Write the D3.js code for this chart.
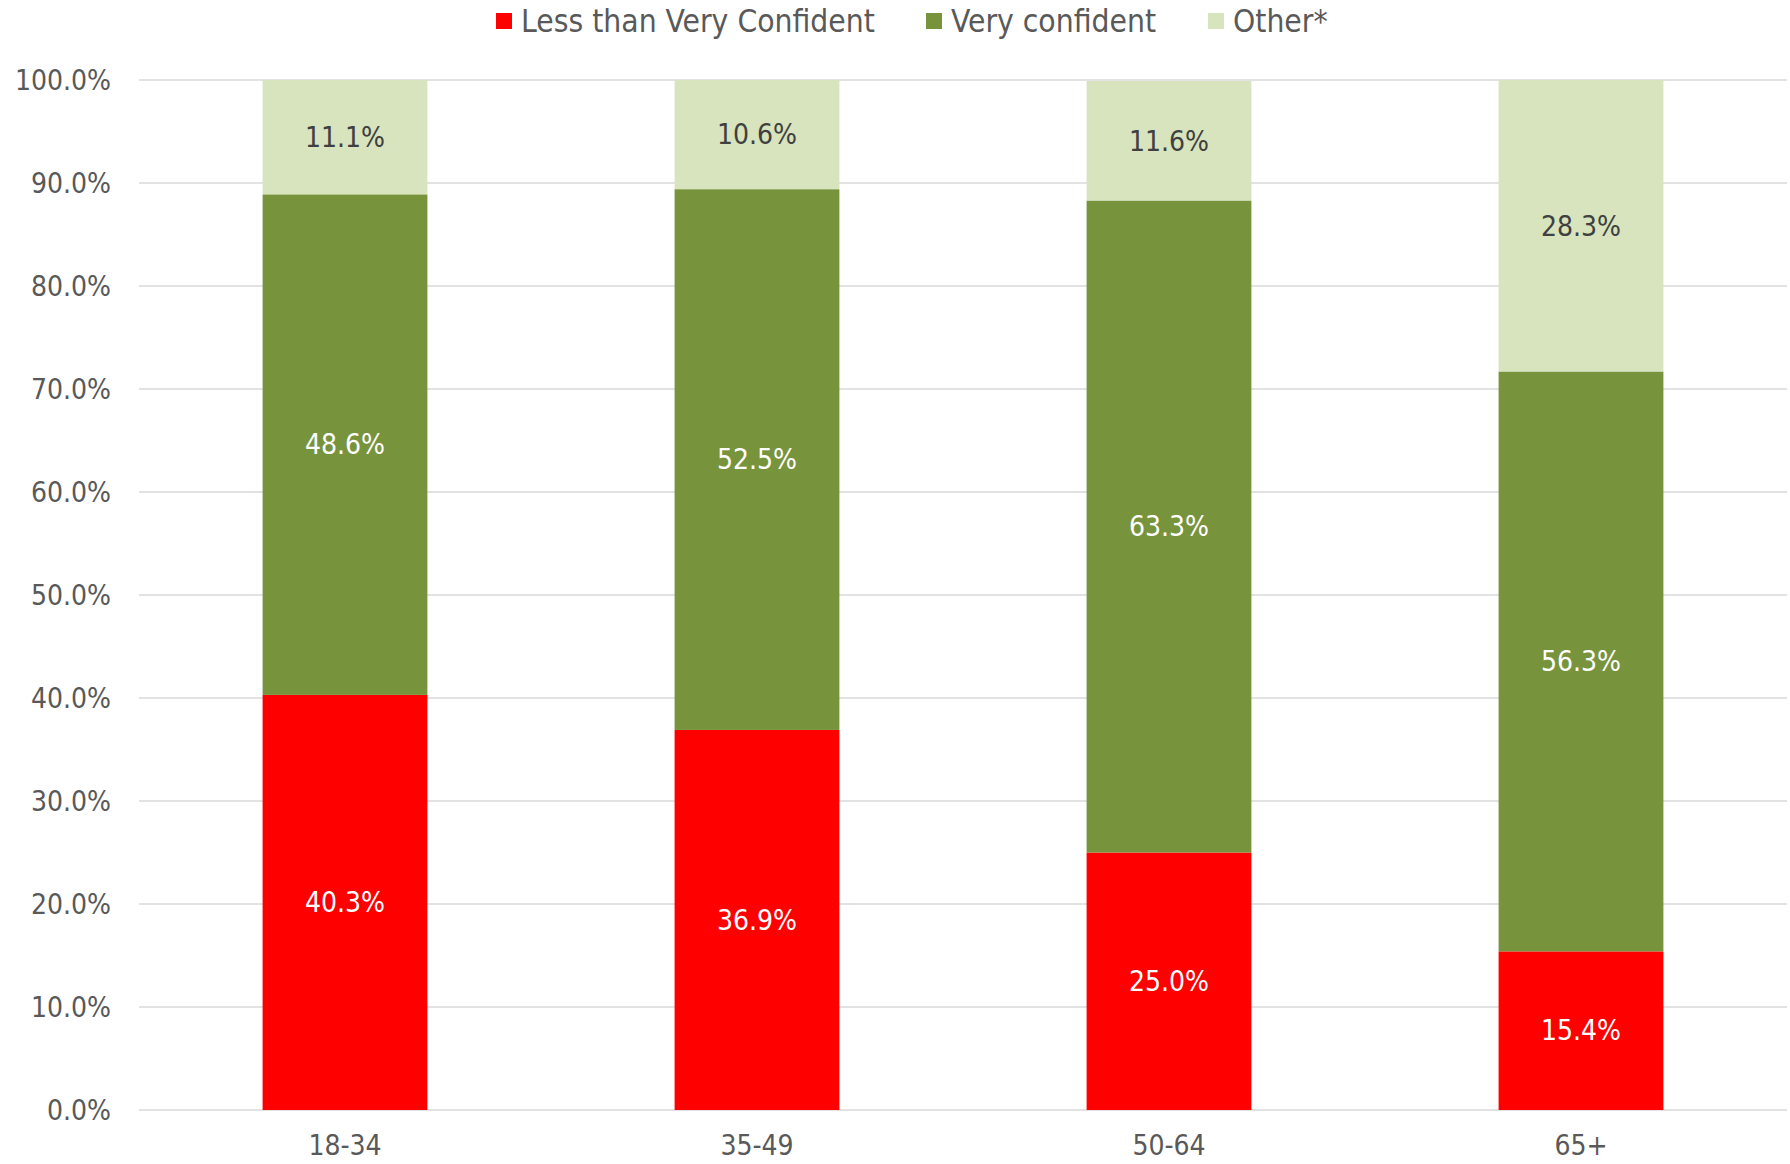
<!DOCTYPE html>
<html>
<head>
<meta charset="utf-8">
<script src="https://cdn.jsdelivr.net/npm/d3@7"></script>
<style>
  html, body { margin: 0; padding: 0; background: #fff; }
  svg text { font-family: "DejaVu Sans Condensed", "Liberation Sans", sans-serif; }
</style>
</head>
<body>
<svg id="chart" width="1790" height="1164"></svg>
<script>
// chart data
const ageGroups = ['18-34', '35-49', '50-64', '65+'];
const seriesNames = ['Less than Very Confident', 'Very confident', 'Other*'];
const lessThanVery = [40.3, 36.9, 25.0, 15.4];
const veryConfident = [48.6, 52.5, 63.3, 56.3];
const otherValues = [11.1, 10.6, 11.6, 28.3];
const yTicks = [0, 10, 20, 30, 40, 50, 60, 70, 80, 90, 100];

const seriesColors = ['#ff0000', '#77933c', '#d7e4bd'];
const labelColors = ['#ffffff', '#ffffff', '#404040'];

const svg = d3.select('#chart');
const margin = { top: 80, right: 3, bottom: 54, left: 139 };
const width = 1790, height = 1164;

// build stack rows from the arrays
const rows = ageGroups.map((g, i) => ({
    group: g,
    s0: lessThanVery[i],
    s1: veryConfident[i],
    s2: otherValues[i]
}));
const stacked = d3.stack().keys(['s0', 's1', 's2'])(rows);

const x = d3.scaleBand()
    .domain(ageGroups)
    .range([margin.left, width - margin.right])
    .paddingInner(0.6)
    .paddingOuter(0.3);

const y = d3.scaleLinear()
    .domain([0, 100])
    .range([height - margin.bottom, margin.top]);

// gridlines
svg.append('g')
    .selectAll('line')
    .data(yTicks)
    .join('line')
    .attr('x1', margin.left)
    .attr('x2', width - margin.right)
    .attr('y1', d => y(d))
    .attr('y2', d => y(d))
    .attr('stroke', '#d9d9d9')
    .attr('stroke-width', 1.5);

// y axis labels
const yAxis = d3.axisLeft(y)
    .tickValues(yTicks)
    .tickFormat(d => d.toFixed(1) + '%')
    .tickSize(0)
    .tickPadding(0);
svg.append('g')
    .attr('transform', `translate(${margin.left - 28},0)`)
    .call(yAxis)
    .call(g => g.select('.domain').remove())
    .selectAll('text')
    .attr('fill', '#595959')
    .attr('dy', '0.35em')
    .style('font-size', '28px');

// x axis labels
const xAxis = d3.axisBottom(x).tickSize(0).tickPadding(0);
svg.append('g')
    .attr('transform', `translate(0,${height - 9})`)
    .call(xAxis)
    .call(g => g.select('.domain').remove())
    .selectAll('text')
    .attr('fill', '#595959')
    .attr('dy', 0)
    .attr('y', 0)
    .style('font-size', '28px');

// bars
stacked.forEach((layer, si) => {
    const g = svg.append('g').attr('class', `series-${si}`);
    g.selectAll('rect')
        .data(layer)
        .join('rect')
        .attr('x', d => x(d.data.group))
        .attr('width', x.bandwidth())
        .attr('y', d => y(d[1]))
        .attr('height', d => y(d[0]) - y(d[1]))
        .attr('fill', seriesColors[si]);

    g.selectAll('text')
        .data(layer)
        .join('text')
        .attr('x', d => x(d.data.group) + x.bandwidth() / 2)
        .attr('y', d => y((d[0] + d[1]) / 2))
        .attr('text-anchor', 'middle')
        .attr('dy', '0.35em')
        .attr('fill', labelColors[si])
        .style('font-size', '28px')
        .text(d => (d[1] - d[0]).toFixed(1) + '%');
});

// legend
const legendX = [496, 926, 1208];
const legend = svg.append('g').attr('class', 'legend');
seriesNames.forEach((name, i) => {
    const item = legend.append('g').attr('transform', `translate(${legendX[i]},0)`);
    item.append('rect')
        .attr('x', 0)
        .attr('y', 13)
        .attr('width', 16)
        .attr('height', 16)
        .attr('fill', seriesColors[i]);
    item.append('text')
        .attr('x', 25)
        .attr('y', 32)
        .attr('fill', '#595959')
        .style('font-size', '31.5px')
        .text(name);
});
</script>
</body>
</html>
